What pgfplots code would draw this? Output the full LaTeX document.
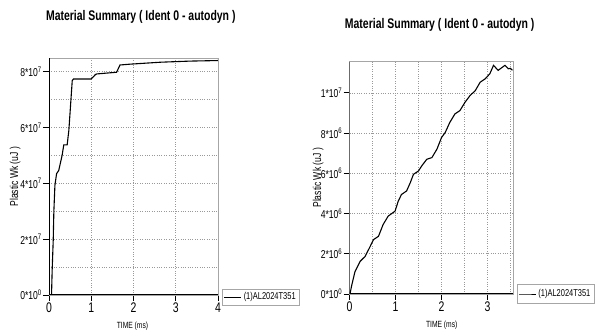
\documentclass[border=0pt]{standalone}
\usepackage{fontspec}
\setmainfont{Liberation Sans}[FakeStretch=0.75]
\usepackage{pgfplots}
\pgfplotsset{compat=1.18}
\begin{document}
\begin{tikzpicture}
\useasboundingbox (0bp,0bp) rectangle (598bp,330bp);
\pgfplotsset{
  mystyle/.style={
    scale only axis,
    /pgf/number format/assume math mode=true,
    axis line style={gray!70, line width=0.5bp},
    tick align=outside,
    xtick pos=bottom, ytick pos=left,
    major tick length=6bp,
    minor tick length=0pt,
    tick style={black, line width=0.9bp},
    grid=both,
    major grid style={dotted, gray!80, line width=0.7bp},
    minor grid style={dotted, gray!80, line width=0.7bp},
    xticklabel style={font=\fontsize{14}{14}\selectfont, inner sep=1.5bp},
    yticklabel style={font=\fontsize{11.5}{12}\selectfont, inner sep=1bp},
    xlabel style={font=\fontsize{9}{10}\selectfont},
    ylabel style={font=\fontsize{11.5}{12}\selectfont},
    legend style={font=\fontsize{10}{11}\selectfont, draw=gray!70, line width=0.5bp, anchor=west, inner sep=1.5bp, legend cell align=left},
    legend image post style={line width=1bp},
    scaled y ticks=false,
  }
}
% ---------- left chart ----------
\begin{axis}[mystyle,
  at={(49bp,35bp)}, anchor=south west,
  width=169bp, height=236.7bp,
  xmin=0, xmax=4, ymin=0, ymax=8.48e7,
  xtick={0,1,2,3,4},
  ytick={0,2e7,4e7,6e7,8e7},
  minor ytick={1e7,3e7,5e7,7e7},
  yticklabels={0*10\textsuperscript{0},2*10\textsuperscript{7},4*10\textsuperscript{7},6*10\textsuperscript{7},8*10\textsuperscript{7}},
  xlabel={TIME (ms)},
  xlabel style={at={(axis description cs:0.494,-0.131)}, anchor=center},
  ylabel={Plastic Wk (uJ )},
  ylabel style={at={(axis description cs:-0.2,0.5)}, anchor=center},
  legend style={at={(axis description cs:1.0237,-0.0085)}},
]
\addplot[black, line width=1.1bp] coordinates {
(0,0) (0.06,0) (0.075,0.9e7) (0.1,1.96e7) (0.115,3.0e7) (0.14,3.93e7) (0.18,4.35e7)
(0.23,4.46e7) (0.31,5.0e7) (0.35,5.38e7) (0.43,5.38e7) (0.47,5.9e7) (0.51,6.79e7)
(0.55,7.68e7) (0.58,7.74e7) (1.0,7.74e7) (1.1,7.9e7) (1.13,7.92e7) (1.6,7.98e7)
(1.68,8.24e7) (1.92,8.27e7) (2.64,8.34e7) (3.34,8.38e7) (4,8.4e7)
};
\addlegendentry{(1)AL2024T351}
\draw[black, line width=1.3bp] (rel axis cs:0,1) -- (rel axis cs:0,0) -- (rel axis cs:1,0);
\end{axis}
% ---------- right chart ----------
\begin{axis}[mystyle,
  at={(349.5bp,36bp)}, anchor=south west,
  width=163.8bp, height=232.3bp,
  xmin=0, xmax=3.56, ymin=0, ymax=1.155e7,
  xtick={0,1,2,3},
  minor xtick={0.5,1.5,2.5,3.5},
  ytick={0,2e6,4e6,6e6,8e6,1e7},
  yticklabels={0*10\textsuperscript{0},2*10\textsuperscript{6},4*10\textsuperscript{6},6*10\textsuperscript{6},8*10\textsuperscript{6},1*10\textsuperscript{7}},
  xlabel={TIME (ms)},
  xlabel style={at={(axis description cs:0.563,-0.133)}, anchor=center},
  ylabel={Plastic Wk (uJ )},
  ylabel style={at={(axis description cs:-0.192,0.5)}, anchor=center},
  legend style={at={(axis description cs:1.0208,0)}, inner ysep=3bp},
]
\addplot[black, line width=1.1bp] coordinates {
(0,0) (0.01,0) (0.05,0.45e6) (0.12,1.12e6) (0.23,1.62e6) (0.34,1.87e6) (0.45,2.37e6)
(0.52,2.7e6) (0.63,2.87e6) (0.73,3.45e6) (0.84,3.87e6) (0.99,4.12e6) (1.06,4.62e6)
(1.13,4.95e6) (1.24,5.12e6) (1.32,5.53e6) (1.39,5.95e6) (1.5,6.12e6) (1.57,6.37e6)
(1.68,6.7e6) (1.79,6.78e6) (1.9,7.2e6) (2.0,7.78e6) (2.08,8.03e6) (2.18,8.53e6)
(2.29,8.95e6) (2.4,9.12e6) (2.51,9.53e6) (2.62,9.87e6) (2.73,10.1e6) (2.84,10.53e6)
(2.95,10.7e6) (3.05,10.95e6) (3.13,11.37e6) (3.23,11.12e6) (3.38,11.37e6)
(3.45,11.2e6) (3.5,11.22e6) (3.54,11.12e6)
};
\addlegendentry{(1)AL2024T351}
\draw[black, line width=1.3bp] (rel axis cs:0,1) -- (rel axis cs:0,0) -- (rel axis cs:1,0);
\end{axis}
% ---------- titles ----------
\node[font=\fontsize{14}{15}\bfseries\selectfont] at (140.8bp,312.7bp) {Material Summary ( Ident 0 - autodyn )};
\node[font=\fontsize{14}{15}\bfseries\selectfont] at (439.7bp,305bp) {Material Summary ( Ident 0 - autodyn )};
\end{tikzpicture}
\end{document}
